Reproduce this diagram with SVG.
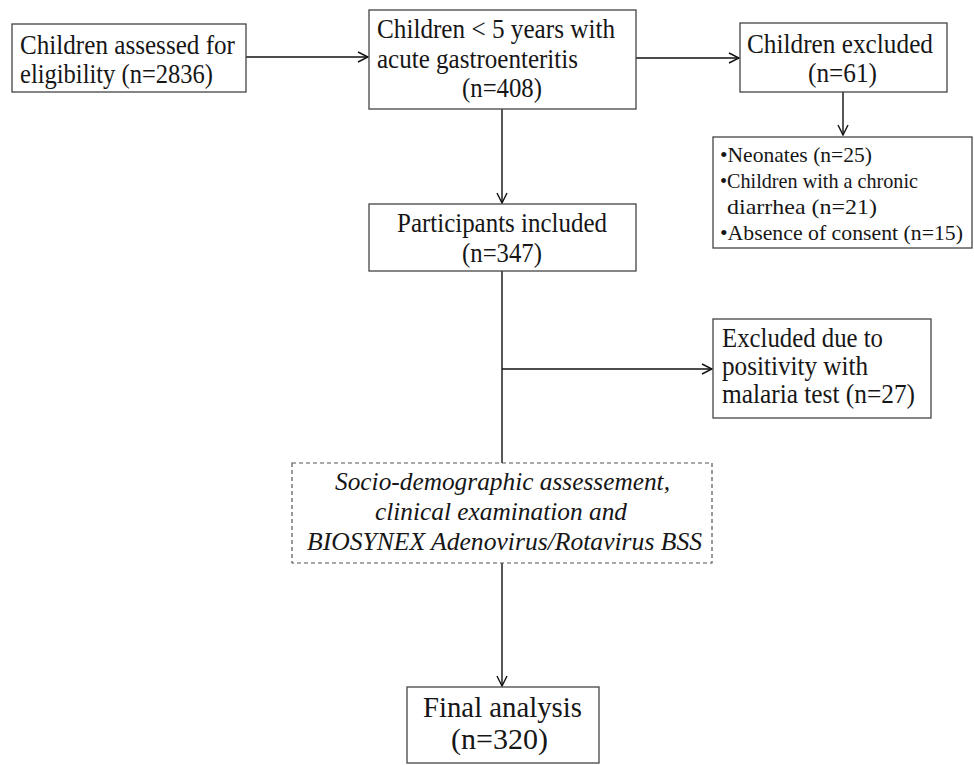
<svg xmlns="http://www.w3.org/2000/svg" width="974" height="765" viewBox="0 0 974 765">
<defs>
<style>
.box{fill:#fff;stroke:#444;stroke-width:1.3}
.dash{fill:#fff;stroke:#555;stroke-width:1.2;stroke-dasharray:4 3}
.t{font-family:"Liberation Serif","Times New Roman",serif;font-size:28px;fill:#161616}
.s{font-family:"Liberation Serif","Times New Roman",serif;font-size:22px;fill:#161616}
.i{font-family:"Liberation Serif","Times New Roman",serif;font-size:25px;font-style:italic;fill:#161616}
.f{font-family:"Liberation Serif","Times New Roman",serif;font-size:29px;fill:#161616}
.ln{stroke:#111;stroke-width:1.4;fill:none}
</style>
<marker id="arr" viewBox="0 0 12 12" refX="11" refY="6" markerWidth="12" markerHeight="12" markerUnits="userSpaceOnUse" orient="auto">
<polyline points="1,1 11,6 1,11" fill="none" stroke="#111" stroke-width="1.4"/>
</marker>
</defs>
<rect width="974" height="765" fill="#fff"/>
<g id="connectors">
<line class="ln" x1="246" y1="57" x2="368" y2="57" marker-end="url(#arr)"/>
<line class="ln" x1="636" y1="58" x2="739" y2="58" marker-end="url(#arr)"/>
<line class="ln" x1="843" y1="92" x2="843" y2="135" marker-end="url(#arr)"/>
<line class="ln" x1="502" y1="109" x2="502" y2="203" marker-end="url(#arr)"/>
<line class="ln" x1="502" y1="271" x2="502" y2="463"/>
<line class="ln" x1="502" y1="369" x2="712" y2="369" marker-end="url(#arr)"/>
<line class="ln" x1="502" y1="563" x2="502" y2="686" marker-end="url(#arr)"/>
</g>
<g id="n1">
<rect class="box" x="12" y="24" width="234" height="68"/>
<text class="t" x="20" y="54" textLength="215" lengthAdjust="spacingAndGlyphs">Children assessed for</text>
<text class="t" x="20" y="83" textLength="193" lengthAdjust="spacingAndGlyphs">eligibility (n=2836)</text>
</g>
<g id="n2">
<rect class="box" x="369" y="10" width="267" height="99"/>
<text class="t" x="377" y="38" textLength="238" lengthAdjust="spacingAndGlyphs">Children &lt; 5 years with</text>
<text class="t" x="377" y="68" textLength="201" lengthAdjust="spacingAndGlyphs">acute gastroenteritis</text>
<text class="t" x="462" y="97" textLength="80" lengthAdjust="spacingAndGlyphs">(n=408)</text>
</g>
<g id="n3">
<rect class="box" x="740" y="23" width="207" height="69"/>
<text class="t" x="747" y="53" textLength="186" lengthAdjust="spacingAndGlyphs">Children excluded</text>
<text class="t" x="808" y="82" textLength="69" lengthAdjust="spacingAndGlyphs">(n=61)</text>
</g>
<g id="n4">
<rect class="box" x="713" y="137" width="259" height="111"/>
<text class="s" x="720" y="162" textLength="152" lengthAdjust="spacingAndGlyphs">•Neonates (n=25)</text>
<text class="s" x="720" y="188" textLength="198" lengthAdjust="spacingAndGlyphs">•Children with a chronic</text>
<text class="s" x="727" y="214" textLength="150" lengthAdjust="spacingAndGlyphs">diarrhea (n=21)</text>
<text class="s" x="720" y="240" textLength="243" lengthAdjust="spacingAndGlyphs">•Absence of consent (n=15)</text>
</g>
<g id="n5">
<rect class="box" x="369" y="204" width="267" height="67"/>
<text class="t" x="397" y="232" textLength="210" lengthAdjust="spacingAndGlyphs">Participants included</text>
<text class="t" x="462" y="262" textLength="80" lengthAdjust="spacingAndGlyphs">(n=347)</text>
</g>
<g id="n6">
<rect class="box" x="713" y="319" width="218" height="99"/>
<text class="t" x="722" y="347" textLength="161" lengthAdjust="spacingAndGlyphs">Excluded due to</text>
<text class="t" x="722" y="375" textLength="146" lengthAdjust="spacingAndGlyphs">positivity with</text>
<text class="t" x="722" y="403" textLength="193" lengthAdjust="spacingAndGlyphs">malaria test (n=27)</text>
</g>
<g id="n7">
<rect class="dash" x="292" y="463" width="420" height="100"/>
<text class="i" x="335" y="490" textLength="335" lengthAdjust="spacingAndGlyphs">Socio-demographic assessement,</text>
<text class="i" x="375" y="520" textLength="252" lengthAdjust="spacingAndGlyphs">clinical examination and</text>
<text class="i" x="307" y="550" textLength="395" lengthAdjust="spacingAndGlyphs">BIOSYNEX Adenovirus/Rotavirus BSS</text>
</g>
<g id="n8">
<rect class="box" x="407" y="687" width="192" height="76"/>
<text class="f" x="423" y="717" textLength="159" lengthAdjust="spacingAndGlyphs">Final analysis</text>
<text class="f" x="451" y="749" textLength="97" lengthAdjust="spacingAndGlyphs">(n=320)</text>
</g>
</svg>
